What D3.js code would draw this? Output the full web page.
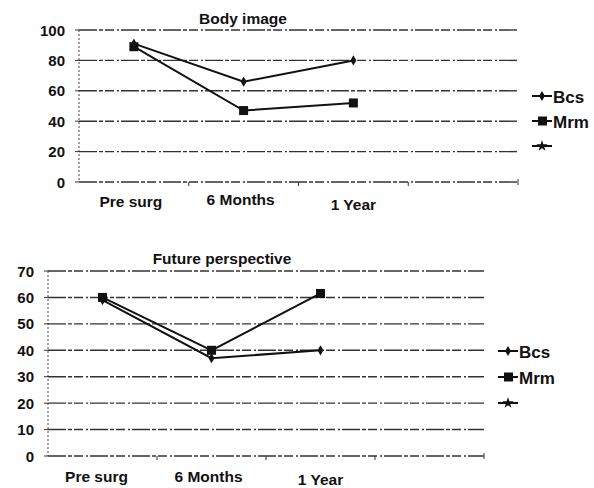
<!DOCTYPE html>
<html>
<head>
<meta charset="utf-8">
<script src="https://cdn.jsdelivr.net/npm/d3@7"></script>
<style>
  body { margin: 0; background: #fff; }
  svg { display: block; }
  text { font-family: "Liberation Sans", Arial, sans-serif; font-weight: bold; fill: #111; }
</style>
</head>
<body>
<svg id="chart" width="594" height="488"></svg>
<script>
// ---- Data ----
const categories = ["Pre surg", "6 Months", "1 Year", ""];
const seriesNames = ["Bcs", "Mrm", ""];

// Body image
const bodyTitle = "Body image";
const bodyBcs = [91, 66, 80];
const bodyMrm = [89, 47, 52];
const bodyTicks = [0, 20, 40, 60, 80, 100];

// Future perspective
const futureTitle = "Future perspective";
const futureBcs = [59, 37, 40];
const futureMrm = [60, 40, 61.5];
const futureTicks = [0, 10, 20, 30, 40, 50, 60, 70];

const svg = d3.select("#chart");

function drawChart(opt) {
  const g = svg.append("g");
  const x = d3.scaleBand().domain(categories.map((c, i) => i)).range([opt.left, opt.right]);
  const y = d3.scaleLinear().domain([0, d3.max(opt.ticks)]).range([opt.bottom, opt.top]);

  // gridlines
  g.selectAll(".grid").data(opt.ticks).enter().append("line")
    .attr("x1", opt.left).attr("x2", opt.right)
    .attr("y1", d => y(d)).attr("y2", d => y(d))
    .attr("stroke", "#333").attr("stroke-width", 1.4)
    .attr("stroke-dasharray", "18,2,4,2,9,3,2,2");

  // y axis (dotted)
  g.append("line").attr("x1", opt.left).attr("x2", opt.left)
    .attr("y1", opt.top).attr("y2", opt.bottom)
    .attr("stroke", "#444").attr("stroke-width", 1).attr("stroke-dasharray", "2,2");
  g.selectAll(".ytick").data(opt.ticks).enter().append("line")
    .attr("x1", opt.left - 4).attr("x2", opt.left)
    .attr("y1", d => y(d)).attr("y2", d => y(d))
    .attr("stroke", "#333");
  g.selectAll(".ylab").data(opt.ticks).enter().append("text")
    .attr("x", opt.left - 14).attr("y", d => y(d) + 5.5)
    .attr("text-anchor", "end").attr("font-size", 15)
    .text(d => d);

  // x ticks at band boundaries
  g.selectAll(".xtick").data(categories.map((c, i) => i).slice(1)).enter().append("line")
    .attr("x1", d => x(d)).attr("x2", d => x(d))
    .attr("y1", opt.bottom).attr("y2", opt.bottom + 4)
    .attr("stroke", "#333");
  g.append("line").attr("x1", opt.right).attr("x2", opt.right)
    .attr("y1", opt.bottom - 3).attr("y2", opt.bottom + 3).attr("stroke", "#333");

  // x labels
  g.selectAll(".xlab").data(categories.slice(0, 3)).enter().append("text")
    .attr("x", (d, i) => x(i) + x.bandwidth() / 2 + opt.labelDx[i])
    .attr("y", (d, i) => opt.labelY[i])
    .attr("text-anchor", "middle").attr("font-size", 15.5)
    .text(d => d);

  // title
  g.append("text").attr("x", opt.titleX).attr("y", opt.titleY)
    .attr("text-anchor", "middle").attr("font-size", 15.5).text(opt.title);

  const line = d3.line().x((d, i) => x(i) + x.bandwidth() / 2).y(d => y(d));
  [opt.bcs, opt.mrm].forEach(vals => {
    g.append("path").datum(vals).attr("d", line)
      .attr("fill", "none").attr("stroke", "#111").attr("stroke-width", 2);
  });
  // markers
  g.selectAll(".dia").data(opt.bcs).enter().append("path")
    .attr("transform", (d, i) => `translate(${x(i) + x.bandwidth() / 2},${y(d)})`)
    .attr("d", d3.symbol().type(d3.symbolDiamond).size(30)).attr("fill", "#111");
  g.selectAll(".sq").data(opt.mrm).enter().append("rect")
    .attr("x", (d, i) => x(i) + x.bandwidth() / 2 - 4.5).attr("y", d => y(d) - 4.5)
    .attr("width", 9).attr("height", 9).attr("fill", "#111");

  // legend
  const lg = g.append("g").attr("transform", `translate(${opt.legX},${opt.legY})`);
  seriesNames.forEach((name, i) => {
    const row = lg.append("g").attr("transform", `translate(0,${i * opt.legStep})`);
    row.append("line").attr("x1", 0).attr("x2", 20).attr("y1", 0).attr("y2", 0)
      .attr("stroke", "#111").attr("stroke-width", 2);
    if (i === 0) {
      row.append("path").attr("transform", "translate(10,0)")
        .attr("d", d3.symbol().type(d3.symbolDiamond).size(30)).attr("fill", "#111");
    } else if (i === 1) {
      row.append("rect").attr("x", 6).attr("y", -4.5).attr("width", 9).attr("height", 9).attr("fill", "#111");
    } else {
      row.append("path").attr("transform", "translate(10,0)")
        .attr("d", d3.symbol().type(d3.symbolStar).size(40)).attr("fill", "#111");
    }
    row.append("text").attr("x", 21).attr("y", 6.5).attr("font-size", 17).text(name);
  });
}

drawChart({
  title: bodyTitle, bcs: bodyBcs, mrm: bodyMrm, ticks: bodyTicks,
  left: 79, right: 518, top: 30, bottom: 182,
  labelDx: [-3, -3, 0], labelY: [207, 205, 210],
  titleX: 243, titleY: 24,
  legX: 532, legY: 96, legStep: 25
});

drawChart({
  title: futureTitle, bcs: futureBcs, mrm: futureMrm, ticks: futureTicks,
  left: 48, right: 484, top: 271, bottom: 456,
  labelDx: [-6, -3, 0], labelY: [482, 482, 485],
  titleX: 222, titleY: 264,
  legX: 498, legY: 351, legStep: 26
});
</script>
</body>
</html>
